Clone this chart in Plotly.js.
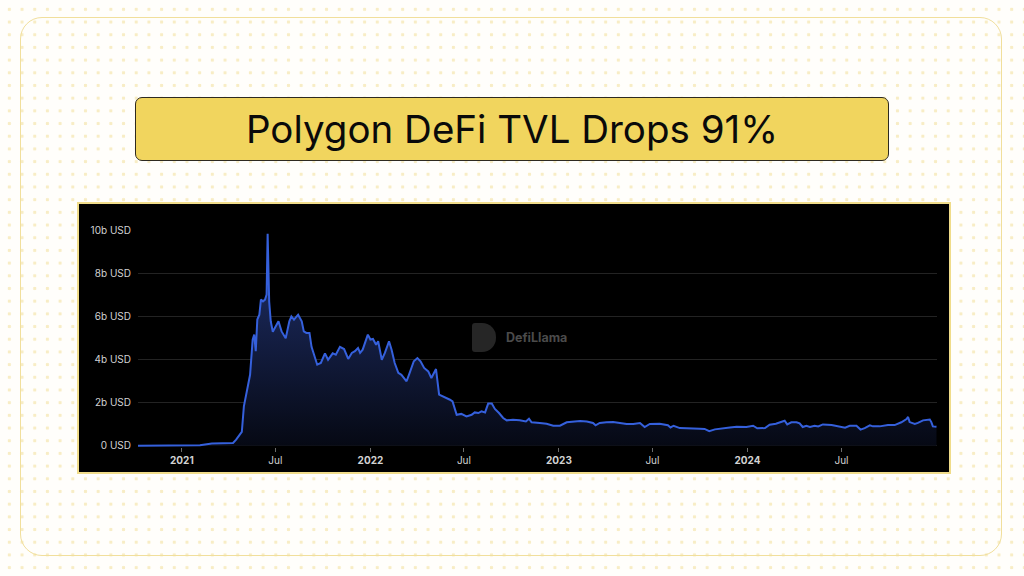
<!DOCTYPE html>
<html>
<head>
<meta charset="utf-8">
<script src="https://cdn.plot.ly/plotly-3.0.1.min.js"></script>
<style>
  html, body { margin:0; padding:0; }
  body {
    width:1024px; height:576px; position:relative; overflow:hidden;
    background-color:#fffefb;
    background-image: radial-gradient(circle, rgba(236,210,110,0.38) 1.5px, transparent 2px);
    background-size: 12.7px 12.7px;
    background-position: 3px 3px;
    font-family: Inter, Roboto, sans-serif;
  }
  #frame {
    position:absolute; left:20px; top:17px; width:982px; height:539px;
    border:1.5px solid #f1df9c; border-radius:22px; box-sizing:border-box;
  }
  #titlebox {
    position:absolute; left:135px; top:97px; width:754px; height:64px;
    background:#f1d55e; border:1.2px solid #2e2a20; border-radius:7px; box-sizing:border-box;
    display:flex; align-items:center; justify-content:center;
    font-family: Inter, Roboto, sans-serif; font-size:38.5px; font-weight:400; color:#0a0a0a; letter-spacing:0px;
  }
  #chartbox {
    position:absolute; left:77px; top:202px; width:874px; height:272px;
    border:2px solid #f0dc8a; box-sizing:border-box; background:#000;
  }
  #plot { position:absolute; left:0; top:0; width:870px; height:268px; }
  #wm {
    position:absolute; left:393px; top:119px; display:flex; align-items:center;
    pointer-events:none;
  }
  #wm .logo {
    width:24px; height:29px; background:#262626; border-radius:3px 14px 14px 3px; margin-right:10px;
  }
  #wm .txt { font-family: Inter, sans-serif; font-weight:700; font-size:12.5px; color:#4b4b4b; }
</style>
</head>
<body>
<div id="frame"></div>
<div id="titlebox">Polygon DeFi TVL Drops 91%</div>
<div id="chartbox">
  <div id="plot"></div>
  <div id="wm"><div class="logo"></div><div class="txt">DefiLlama</div></div>
</div>
<script>
const dates = [
 '2020-10-08','2020-11-15','2020-12-20','2021-01-20','2021-02-05','2021-02-28','2021-03-20','2021-04-10','2021-04-16','2021-04-27',
 '2021-05-01','2021-05-06','2021-05-13','2021-05-18','2021-05-21','2021-05-24','2021-05-27','2021-05-31','2021-06-03','2021-06-07',
 '2021-06-11','2021-06-14','2021-06-16','2021-06-19','2021-06-22','2021-06-26','2021-06-30','2021-07-07','2021-07-13','2021-07-21',
 '2021-07-28','2021-08-01','2021-08-06','2021-08-14','2021-08-21','2021-08-25','2021-08-30','2021-09-05','2021-09-09','2021-09-12',
 '2021-09-20','2021-09-27','2021-10-05','2021-10-11','2021-10-20','2021-10-26','2021-11-03','2021-11-11','2021-11-19','2021-11-26',
 '2021-12-02','2021-12-08','2021-12-12','2021-12-17','2021-12-23','2021-12-27','2022-01-01','2022-01-06','2022-01-12','2022-01-16',
 '2022-01-23','2022-01-29','2022-02-06','2022-02-11','2022-02-17','2022-02-24','2022-03-02','2022-03-12','2022-03-18','2022-03-26',
 '2022-04-02','2022-04-08','2022-04-15','2022-04-23','2022-04-29','2022-05-08','2022-05-14','2022-05-22','2022-05-28','2022-06-04',
 '2022-06-09','2022-06-17','2022-06-26','2022-07-06','2022-07-16','2022-07-22','2022-07-29','2022-08-04','2022-08-11','2022-08-17',
 '2022-08-24','2022-08-30','2022-09-07','2022-09-15','2022-09-22','2022-10-04','2022-10-17','2022-10-29','2022-11-04','2022-11-09',
 '2022-11-25','2022-12-08','2022-12-21','2023-01-03','2023-01-16','2023-01-29','2023-02-11','2023-02-24','2023-03-08','2023-03-13',
 '2023-03-21','2023-04-03','2023-04-16','2023-04-29','2023-05-12','2023-05-25','2023-06-07','2023-06-16','2023-06-23','2023-06-26',
 '2023-07-15','2023-07-31','2023-08-05','2023-08-11','2023-08-23','2023-09-11','2023-10-01','2023-10-10','2023-10-19','2023-10-30',
 '2023-11-12','2023-11-28','2023-12-11','2023-12-30','2024-01-12','2024-01-20','2024-02-04','2024-02-13','2024-02-25','2024-03-07',
 '2024-03-13','2024-03-18','2024-03-26','2024-04-05','2024-04-11','2024-04-17','2024-04-24','2024-05-01','2024-05-10','2024-05-17',
 '2024-05-26','2024-06-12','2024-06-28','2024-07-08','2024-07-17','2024-07-30','2024-08-07','2024-08-15','2024-08-25','2024-08-31',
 '2024-09-13','2024-09-29','2024-10-12','2024-10-25','2024-11-04','2024-11-07','2024-11-10','2024-11-20','2024-11-26','2024-12-06',
 '2024-12-19','2024-12-22','2024-12-25','2025-01-01'
];
const tvlBillions = [
 0.0,0.0,0.01,0.01,0.02,0.1,0.11,0.13,0.28,0.64,
 1.83,2.4,3.3,4.94,5.17,4.4,5.87,6.1,6.8,6.72,
 6.8,7.03,9.86,6.7,5.79,5.3,5.48,5.79,5.32,5.0,
 5.79,6.02,5.87,6.1,5.79,5.32,5.25,5.25,4.6,4.4,
 3.77,3.85,4.3,4.0,4.3,4.24,4.6,4.5,4.04,4.32,
 4.4,4.55,4.32,4.47,4.86,5.17,4.94,4.97,4.7,4.86,
 4.0,4.32,4.86,4.47,3.85,3.39,3.3,3.0,3.39,3.93,
 4.08,3.93,3.62,3.46,3.15,3.57,2.38,2.3,2.22,2.14,
 2.06,1.44,1.48,1.36,1.44,1.55,1.52,1.6,1.55,1.96,
 1.96,1.71,1.52,1.29,1.18,1.21,1.18,1.13,1.26,1.09,
 1.06,1.02,0.93,0.93,1.09,1.13,1.15,1.13,1.06,0.95,
 1.06,1.09,1.1,1.06,1.01,1.01,1.06,0.87,0.98,1.01,
 1.02,0.95,0.85,0.93,0.82,0.82,0.79,0.78,0.68,0.76,
 0.81,0.85,0.88,0.87,0.93,0.81,0.82,0.98,1.02,1.12,
 1.16,0.99,1.09,1.09,1.04,0.87,0.93,0.87,0.93,0.9,
 0.99,0.96,0.9,0.84,0.93,0.93,0.75,0.82,0.95,0.9,
 0.9,0.96,0.96,1.09,1.24,1.34,1.1,1.01,1.06,1.18,
 1.22,1.1,0.9,0.88
];
const yTickVals = [0, 2e9, 4e9, 6e9, 8e9, 10e9];
const yTickText = ['0 USD','2b USD','4b USD','6b USD','8b USD','10b USD'];
const xTickVals = ['2021-01-01','2021-07-01','2022-01-01','2022-07-01','2023-01-01','2023-07-01','2024-01-01','2024-07-01'];
const xTickText = ['<b>2021</b>','Jul','<b>2022</b>','Jul','<b>2023</b>','Jul','<b>2024</b>','Jul'];

const tvl = tvlBillions.map(v => v * 1e9);

const trace = {
  type: 'scatter', mode: 'lines', x: dates, y: tvl,
  line: { color: '#3560dc', width: 2 },
  fill: 'tozeroy',
  fillgradient: { type: 'vertical', start: 0, stop: 7e9,
    colorscale: [[0, 'rgba(6,9,20,1)'], [1, 'rgba(25,38,85,1)']] },
  hoverinfo: 'skip'
};

const layout = {
  width: 870, height: 268,
  margin: { l: 59, r: 12, t: 26, b: 25 },
  paper_bgcolor: '#000', plot_bgcolor: '#000',
  showlegend: false,
  font: { family: 'Inter, sans-serif', size: 10, color: '#cfcfcf' },
  xaxis: {
    type: 'date', range: ['2020-10-08', '2025-01-02'],
    showgrid: false, zeroline: false, showline: false,
    tickmode: 'array', tickvals: xTickVals, ticktext: xTickText,
    ticks: 'outside', ticklen: 4, tickwidth: 1, tickcolor: '#6a6a6a',
    tickfont: { family: 'Inter, sans-serif', size: 10, color: '#d2d2d2' }
  },
  yaxis: {
    range: [-0.06e9, 10.04e9], fixedrange: true,
    tickmode: 'array', tickvals: yTickVals, ticktext: yTickText,
    showgrid: true, gridcolor: '#232323', gridwidth: 1, zeroline: false, showline: false,
    ticks: '', ticklabelstandoff: 6,
    tickfont: { family: 'Inter, sans-serif', size: 10, color: '#d2d2d2' }
  }
};

Plotly.newPlot('plot', [trace], layout, { displayModeBar: false, staticPlot: true });
</script>
</body>
</html>
